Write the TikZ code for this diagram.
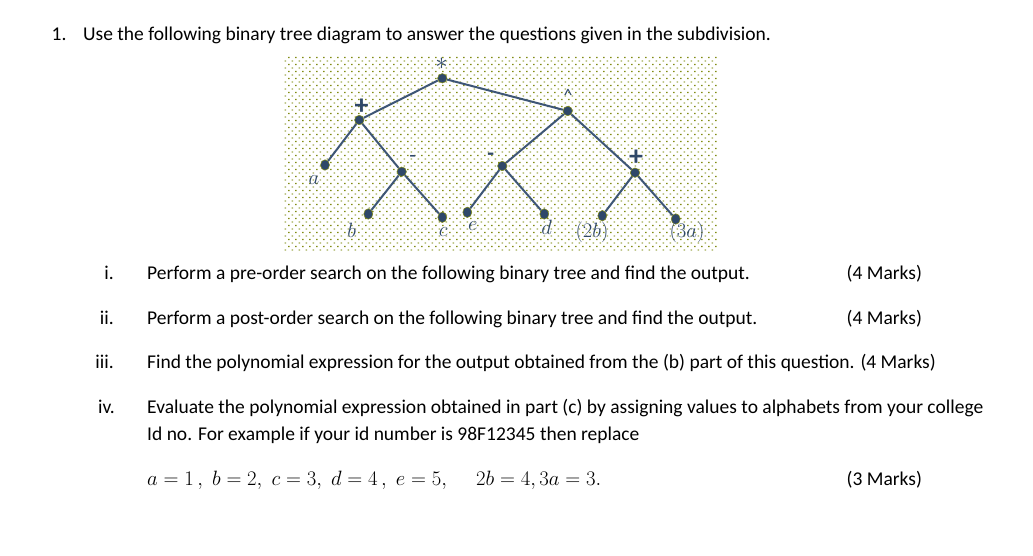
\documentclass[tikz,border=0pt]{standalone}
\usepackage{fontspec}
\setmainfont{Carlito}
\usetikzlibrary{shapes.geometric}
\definecolor{treeblue}{RGB}{47,72,105}
\definecolor{edgeblue}{RGB}{62,86,118}
\definecolor{dotolive}{RGB}{130,140,20}
\definecolor{dotpale}{RGB}{160,170,80}
\begin{document}
\begin{tikzpicture}[x=1pt, y=-1pt, line join=round,
	body/.style={font=\fontsize{19.5}{23}\selectfont, anchor=base west, inner sep=0pt},
	num/.style={font=\fontsize{19.5}{23}\selectfont, anchor=base east, inner sep=0pt},
	vertex/.style={circle, fill=treeblue, draw=dotolive, line width=0.5pt, minimum size=9.5pt, inner sep=0pt},
	leaf/.style={ellipse, fill=treeblue, draw=dotolive, line width=0.5pt, minimum width=9pt, minimum height=10.5pt, inner sep=0pt},
	op/.style={text=treeblue, font=\fontsize{22}{22}\selectfont, inner sep=0pt},
	var/.style={text=treeblue, font=\fontsize{20}{20}\selectfont, inner sep=0pt},
	branch/.style={draw=edgeblue, line width=2pt}]
	\useasboundingbox (0,0) rectangle (1033,556);
	
	% Dotted background of the tree
	\fill[dotolive] \foreach \r in {0,2,...,54} {\foreach \c in {0,...,61} {(288.2+7*\c, 56.8+3.5*\r) rectangle ++(1.3,1.3)}};
	\fill[dotpale] \foreach \r in {1,3,...,55} {\foreach \c in {0,...,61} {(284.7+7*\c, 56.8+3.5*\r) rectangle ++(1.3,1.3)}};
	
	% Question
	\node[body] (qnum) at (51.5, 40.5) {1.};
	\node[body] (qtext) at (83, 40.5) {Use the following binary tree diagram to answer the questions given in the subdivision.};
	
	% Tree
	\node[vertex] (root) at (442.3, 78.3) {};
	\node[vertex] (plusL) at (359.3, 120) {};
	\node[vertex] (caret) at (567.7, 111) {};
	\node[vertex] (minusL) at (401.7, 171.7) {};
	\node[vertex] (minusR) at (502.3, 166) {};
	\node[vertex] (plusR) at (635, 172.7) {};
	\node[leaf] (leafA) at (325, 165) {};
	\node[leaf] (leafB) at (368.3, 214) {};
	\node[leaf] (leafC) at (442.3, 217.3) {};
	\node[leaf] (leafE) at (467.3, 212.3) {};
	\node[leaf] (leafD) at (544.3, 214) {};
	\node[leaf] (leafTwoB) at (602.3, 215.7) {};
	\node[leaf] (leafThreeA) at (675.7, 219) {};
	
	\draw[branch] (root) -- (plusL);
	\draw[branch] (root) -- (caret);
	\draw[branch] (plusL) -- (leafA);
	\draw[branch] (plusL) -- (minusL);
	\draw[branch] (minusL) -- (leafB);
	\draw[branch] (minusL) -- (leafC);
	\draw[branch] (caret) -- (minusR);
	\draw[branch] (caret) -- (plusR);
	\draw[branch] (minusR) -- (leafE);
	\draw[branch] (minusR) -- (leafD);
	\draw[branch] (plusR) -- (leafTwoB);
	\draw[branch] (plusR) -- (leafThreeA);
	
	\node[op, font=\fontsize{30}{30}\selectfont] (lblRoot) at (441.7, 63.5) {$\ast$};
	\node[op, font=\fontsize{28}{28}\selectfont] (lblPlusL) at (361.7, 106.5) {\textbf{+}};
	\node[op, font=\fontsize{18}{18}\selectfont] (lblCaret) at (568, 95) {\textasciicircum};
	\node[op] (lblMinusL) at (412.7, 159) {-};
	\node[op] (lblMinusR) at (490.7, 157) {\textbf{-}};
	\node[op, font=\fontsize{28}{28}\selectfont] (lblPlusR) at (636, 157.5) {\textbf{+}};
	\node[var] (lblA) at (314, 180) {$a$};
	\node[var] (lblB) at (351.7, 230) {$b$};
	\node[var] (lblC) at (443.3, 232) {$c$};
	\node[var] (lblE) at (472.7, 226) {$e$};
	\node[var] (lblD) at (546.7, 227) {$d$};
	\node[var] (lblTwoB) at (592, 232) {$(2b)$};
	\node[var] (lblThreeA) at (687, 232) {$(3a)$};
	
	% Sub-questions
	\node[num] (numI) at (114, 279) {i.};
	\node[body] (partI) at (147, 279) {Perform a pre-order search on the following binary tree and find the output.};
	\node[body] (marksI) at (846.5, 279) {(4 Marks)};
	
	\node[num] (numII) at (114, 324) {ii.};
	\node[body] (partII) at (147, 324) {Perform a post-order search on the following binary tree and find the output.};
	\node[body] (marksII) at (846.5, 324) {(4 Marks)};
	
	\node[num] (numIII) at (114, 368.5) {iii.};
	\node[body] (partIII) at (147, 368.5) {Find the polynomial expression for the output obtained from the (b) part of this question. (4 Marks)};
	
	\node[num] (numIV) at (115, 413.5) {iv.};
	\node[body] (partIV) at (147, 413.5) {Evaluate the polynomial expression obtained in part (c) by assigning values to alphabets from your college};
	\node[body] (partIVb) at (147, 440.5) {Id no. For example if your id number is 98F12345 then replace};
	\node[body, font=\fontsize{20}{24}\selectfont] (values) at (147, 485) {$a = 1\,,\; b = 2,\; c = 3,\; d = 4\,,\; e = 5, \quad\; 2b = 4, 3a = 3.$};
	\node[body] (marksIV) at (846.5, 485) {(3 Marks)};
	
\end{tikzpicture}
\end{document}
